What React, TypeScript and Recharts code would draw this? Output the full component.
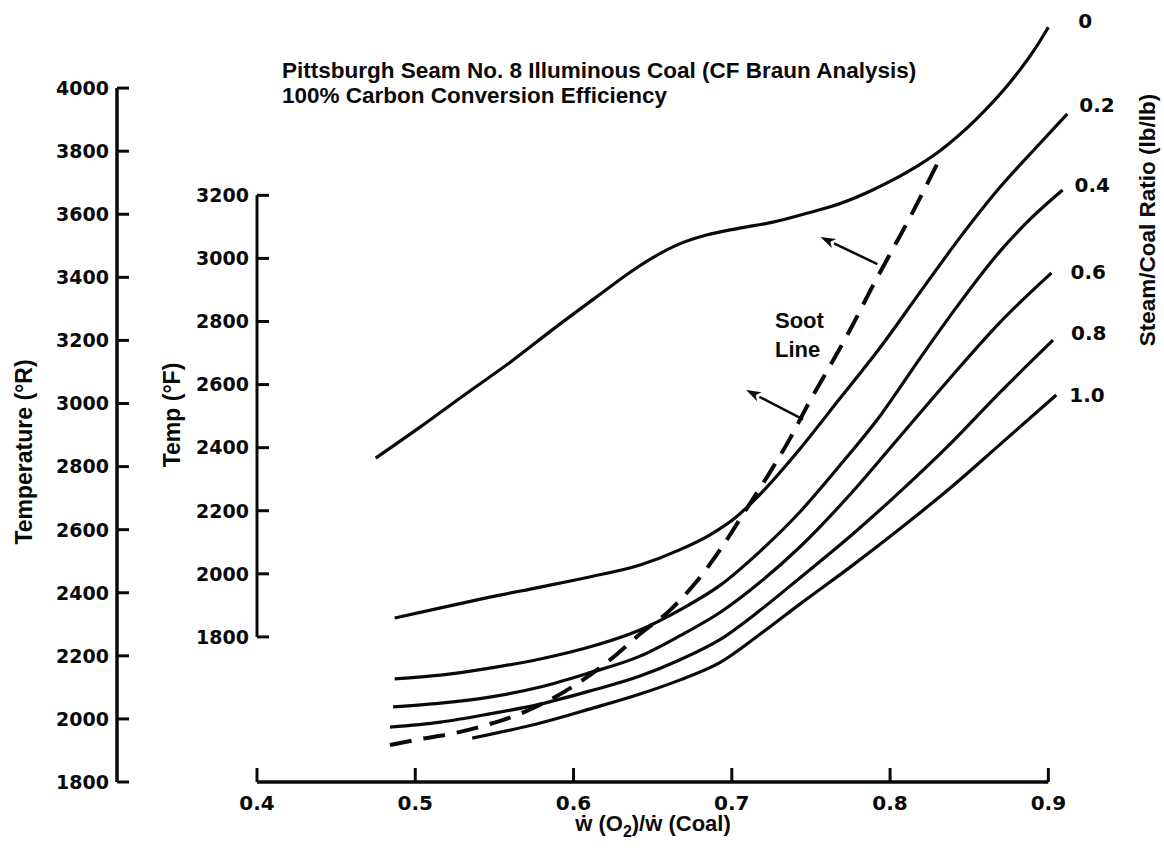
import React from 'react';
import { ComposedChart, Line, XAxis, YAxis, ReferenceLine, LabelList } from 'recharts';

// Flame temperature vs oxygen/coal ratio, one curve per steam/coal ratio.
// Each pair is [w(O2)/w(Coal), temperature in °R].

const RATIO_0 = [
  [0.475, 2827], [0.503, 2925], [0.531, 3027], [0.56, 3131], [0.588, 3239], [0.617, 3347],
  [0.636, 3417], [0.652, 3468], [0.667, 3506], [0.684, 3534], [0.705, 3556], [0.726, 3575],
  [0.748, 3604], [0.769, 3635], [0.789, 3677], [0.811, 3734], [0.832, 3803], [0.854, 3899],
  [0.876, 4019], [0.891, 4120], [0.9, 4193],
];
const RATIO_02 = [
  [0.487, 2320], [0.516, 2352], [0.547, 2386], [0.579, 2418], [0.61, 2450], [0.642, 2488],
  [0.667, 2536], [0.686, 2583], [0.702, 2637], [0.718, 2713], [0.743, 2856], [0.768, 3014],
  [0.794, 3179], [0.819, 3353], [0.844, 3525], [0.869, 3683], [0.892, 3810], [0.912, 3918],
];
const RATIO_04 = [
  [0.487, 2127], [0.516, 2139], [0.547, 2161], [0.579, 2190], [0.61, 2228], [0.642, 2282],
  [0.667, 2345], [0.693, 2425], [0.718, 2532], [0.743, 2656], [0.768, 2802], [0.794, 2963],
  [0.819, 3144], [0.844, 3319], [0.869, 3480], [0.888, 3582], [0.909, 3677],
];
const RATIO_06 = [
  [0.486, 2038], [0.516, 2050], [0.547, 2069], [0.579, 2101], [0.61, 2146], [0.642, 2199],
  [0.667, 2263], [0.693, 2339], [0.718, 2434], [0.743, 2545], [0.775, 2713], [0.806, 2894],
  [0.838, 3081], [0.869, 3255], [0.902, 3414],
];
const RATIO_08 = [
  [0.484, 1974], [0.516, 1990], [0.547, 2016], [0.579, 2047], [0.61, 2088], [0.642, 2136],
  [0.667, 2187], [0.693, 2253], [0.718, 2345], [0.743, 2447], [0.775, 2580], [0.806, 2719],
  [0.838, 2872], [0.869, 3033], [0.903, 3201],
];
const RATIO_10 = [
  [0.536, 1939], [0.579, 1987], [0.61, 2031], [0.642, 2079], [0.667, 2123], [0.693, 2180],
  [0.718, 2269], [0.743, 2364], [0.775, 2482], [0.806, 2602], [0.838, 2732], [0.869, 2868],
  [0.905, 3027],
];
// soot line, read against the °F scale: [w(O2)/w(Coal), temperature in °F]
const SOOT_LINE_F = [
  [0.484, 1457], [0.503, 1476], [0.522, 1492], [0.543, 1518], [0.564, 1552], [0.585, 1600],
  [0.604, 1657], [0.623, 1727], [0.642, 1809], [0.661, 1885], [0.678, 1977], [0.693, 2079],
  [0.708, 2196], [0.723, 2313], [0.737, 2431], [0.749, 2545], [0.762, 2659], [0.775, 2776],
  [0.787, 2893], [0.8, 3014], [0.813, 3134], [0.83, 3302],
];

// arrows pointing away from the soot line, in °R: [foot on the line, tip]
const SOOT_ARROWS = [
  [[0.792, 3442], [0.756, 3528]],
  [[0.745, 2950], [0.709, 3043]],
];

const X_TICKS = [0.4, 0.5, 0.6, 0.7, 0.8, 0.9];
const R_TICKS = [1800, 2000, 2200, 2400, 2600, 2800, 3000, 3200, 3400, 3600, 3800, 4000];
const F_TICKS = [1800, 2000, 2200, 2400, 2600, 2800, 3000, 3200];

const SERIES = [
  { label: '0', data: RATIO_0, dx: 30, dy: -6 },
  { label: '0.2', data: RATIO_02, dx: 12, dy: -9 },
  { label: '0.4', data: RATIO_04, dx: 12, dy: -5 },
  { label: '0.6', data: RATIO_06, dx: 19, dy: -1 },
  { label: '0.8', data: RATIO_08, dx: 18, dy: -7 },
  { label: '1.0', data: RATIO_10, dx: 13, dy: 0 },
];

const toPoints = (pairs: number[][]) => pairs.map(([x, t]) => ({ x, t }));

const INK = '#0a0a0a';
const NUM_FONT = '"DejaVu Sans", sans-serif';
const TEXT_FONT = '"Liberation Sans", Arial, sans-serif';

const YTick = (props: any) => {
  const { x, y, payload } = props;
  return (
    <g>
      <line x1={x} y1={y} x2={x + 12} y2={y} stroke={INK} strokeWidth={3} />
      <text x={x - 8} y={y} dy="0.36em" textAnchor="end" fontFamily={NUM_FONT} fontWeight="bold" fontSize={19} fill={INK}>
        {payload.value}
      </text>
    </g>
  );
};

const XTick = (props: any) => {
  const { x, y, payload } = props;
  return (
    <g>
      <line x1={x} y1={y} x2={x} y2={y - 14} stroke={INK} strokeWidth={3} />
      <text x={x} y={y + 21} dy="0.36em" textAnchor="middle" fontFamily={NUM_FONT} fontWeight="bold" fontSize={20} fill={INK}>
        {payload.value}
      </text>
    </g>
  );
};

const Arrow = (props: any) => {
  const { x1, y1, x2, y2 } = props;
  const len = Math.hypot(x2 - x1, y2 - y1) || 1;
  const ux = (x2 - x1) / len;
  const uy = (y2 - y1) / len;
  const bx = x2 - ux * 15;
  const by = y2 - uy * 15;
  return (
    <g>
      <line x1={x1} y1={y1} x2={bx} y2={by} stroke={INK} strokeWidth={2.5} />
      <polygon points={`${x2},${y2} ${bx - uy * 5},${by + ux * 5} ${bx + ux * 4},${by + uy * 4} ${bx + uy * 5},${by - ux * 5}`} fill={INK} />
    </g>
  );
};

const endLabel = (text: string, count: number, dx: number, dy: number) => (props: any) => {
  if (props.index !== count - 1) return null;
  return (
    <text x={props.x + dx} y={props.y + dy} dy="0.36em" textAnchor="start" fontFamily={NUM_FONT} fontWeight="bold" fontSize={20} fill={INK}>
      {text}
    </text>
  );
};

const textStyle: React.CSSProperties = {
  position: 'absolute',
  fontFamily: TEXT_FONT,
  fontWeight: 'bold',
  color: INK,
  whiteSpace: 'nowrap',
};

const rotated = (left: number, top: number): React.CSSProperties => ({
  ...textStyle,
  left,
  top,
  transform: 'translate(-50%, -50%) rotate(-90deg)',
});

export default function App() {
  return (
    <div style={{ position: 'absolute', left: 0, top: 0, width: 1164, height: 854, background: '#fff' }}>
      <ComposedChart width={1164} height={854} margin={{ top: 25, right: 84, bottom: 0, left: 0 }}>
        <XAxis
          type="number"
          dataKey="x"
          domain={[0.4, 0.92]}
          ticks={X_TICKS}
          interval={0}
          tickSize={0}
          tickMargin={0}
          tick={<XTick />}
          height={72}
          stroke={INK}
          strokeWidth={3.5}
          axisLine={{ strokeDasharray: '791.3 1000' }}
        />
        <YAxis
          yAxisId="F"
          orientation="left"
          width={140}
          type="number"
          domain={[1340, 3740]}
          ticks={F_TICKS}
          interval={0}
          tickSize={0}
          tickMargin={0}
          tick={<YTick />}
          stroke={INK}
          strokeWidth={3}
          axisLine={{ strokeDasharray: '0 170.3 441.6 2000' }}
        />
        <YAxis
          yAxisId="R"
          orientation="left"
          width={117}
          type="number"
          domain={[1800, 4200]}
          ticks={R_TICKS}
          interval={0}
          tickSize={0}
          tickMargin={0}
          tick={<YTick />}
          stroke={INK}
          strokeWidth={3.5}
          axisLine={{ strokeDasharray: '0 63.1 693.9 2000' }}
        />
        {SERIES.map((s) => (
          <Line
            key={s.label}
            yAxisId="R"
            data={toPoints(s.data)}
            dataKey="t"
            type="monotone"
            stroke={INK}
            strokeWidth={3.2}
            dot={false}
            activeDot={false}
            isAnimationActive={false}
          >
            <LabelList dataKey="t" content={endLabel(s.label, s.data.length, s.dx, s.dy)} />
          </Line>
        ))}
        <Line
          yAxisId="F"
          data={toPoints(SOOT_LINE_F)}
          dataKey="t"
          type="monotone"
          stroke={INK}
          strokeWidth={4}
          strokeDasharray="22 12"
          dot={false}
          activeDot={false}
          isAnimationActive={false}
        />
        {SOOT_ARROWS.map(([foot, tip], i) => (
          <ReferenceLine
            key={i}
            yAxisId="R"
            segment={[{ x: foot[0], y: foot[1] }, { x: tip[0], y: tip[1] }]}
            shape={Arrow}
            ifOverflow="visible"
          />
        ))}
      </ComposedChart>

      <div style={{ ...textStyle, left: 282, top: 58, fontSize: 22.5, lineHeight: '25px' }}>
        Pittsburgh Seam No. 8 Illuminous Coal (CF Braun Analysis)
        <br />
        100% Carbon Conversion Efficiency
      </div>
      <div style={{ ...textStyle, left: 775, top: 306, fontSize: 22, lineHeight: '29px' }}>
        Soot
        <br />
        Line
      </div>
      <div style={{ ...rotated(24, 452), fontSize: 23 }}>Temperature (°R)</div>
      <div style={{ ...rotated(172, 415), fontSize: 23 }}>Temp (°F)</div>
      <div style={{ ...rotated(1148, 220), fontSize: 22.5 }}>Steam/Coal Ratio (lb/lb)</div>
      <div style={{ ...textStyle, left: 653, top: 826, transform: 'translate(-50%, -50%)', fontSize: 22 }}>
        ẇ (O<sub style={{ fontSize: 16 }}>2</sub>)/ẇ (Coal)
      </div>
    </div>
  );
}
